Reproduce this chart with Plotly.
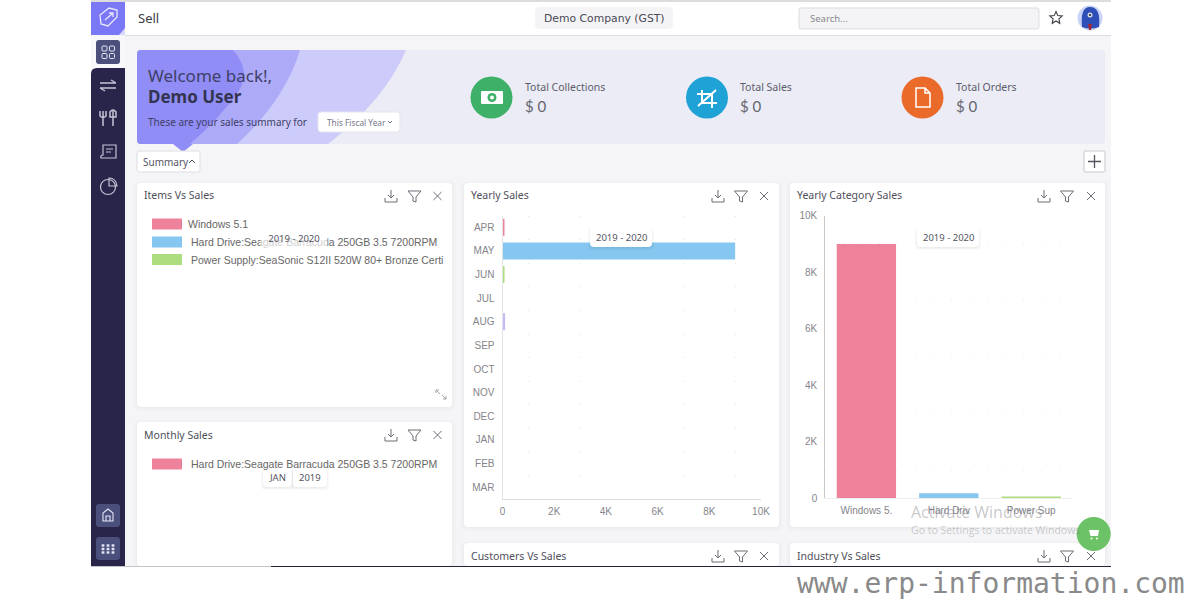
import math
import re
import plotly.graph_objects as go

W, H = 1200, 600

# chart values
MONTHS = ['APR', 'MAY', 'JUN', 'JUL', 'AUG', 'SEP', 'OCT', 'NOV', 'DEC', 'JAN', 'FEB', 'MAR']
MONTH_SALES = [60, 9000, 60, 0, 100, 0, 0, 0, 0, 0, 0, 0]
MONTH_COLORS = ['#ef829b', '#85c7f0', '#aedd7f', '#c6b9f5', '#c6b9f5'] + ['#ef829b'] * 7
CATEGORIES = ['Windows 5.', 'Hard Driv', 'Power Sup']
CATEGORY_SALES = [9000, 180, 60]
CATEGORY_COLORS = ['#ef829b', '#85c7f0', '#aedd7f']
SALES_TICKS = [0, 2000, 4000, 6000, 8000, 10000]
SALES_TICK_LABELS = ['0', '2K', '4K', '6K', '8K', '10K']
MINOR_X = [1000, 3000, 7000, 9000]
MINOR_Y = [1000, 3000, 5000, 7000, 9000]
ITEM_NAMES = ['Windows 5.1', 'Hard Drive:Seagate Barracuda 250GB 3.5 7200RPM',
              'Power Supply:SeaSonic S12II 520W 80+ Bronze Certi']
MONTHLY_NAMES = ['Hard Drive:Seagate Barracuda 250GB 3.5 7200RPM']
STAT_NAMES = ['Total Collections', 'Total Sales', 'Total Orders']
STAT_VALUES = ['$ 0', '$ 0', '$ 0']

UI_FONT = 'Noto Sans'
CHART_FONT = 'Liberation Sans'
shapes = []
annotations = []


def px(x):
    return x / W


def py(y):
    return 1 - y / H


def to_paper(path):
    # turn an svg path in screen pixels into paper fractions
    out = []
    is_x = True
    for tok in re.findall(r'[MLQCZ]|-?[\d.]+', path):
        if tok in 'MLQCZ':
            out.append(tok)
            is_x = True
        else:
            out.append(str(round(px(float(tok)) if is_x else py(float(tok)), 5)))
            is_x = not is_x
    return ' '.join(out)


def path(d, fill=None, line=None, width=1.2, layer='below'):
    shapes.append(dict(type='path', path=to_paper(d), xref='paper', yref='paper', layer=layer,
                       fillcolor=fill if fill else 'rgba(0,0,0,0)',
                       line=dict(color=line if line else 'rgba(0,0,0,0)', width=width if line else 0)))


def rrect_path(x0, y0, x1, y1, r):
    return (f'M {x0+r} {y0} L {x1-r} {y0} Q {x1} {y0} {x1} {y0+r} L {x1} {y1-r} Q {x1} {y1} {x1-r} {y1} '
            f'L {x0+r} {y1} Q {x0} {y1} {x0} {y1-r} L {x0} {y0+r} Q {x0} {y0} {x0+r} {y0} Z')


def rrect(x0, y0, x1, y1, r=0, fill='white', line=None, width=1, layer='below'):
    path(rrect_path(x0, y0, x1, y1, r) if r else f'M {x0} {y0} L {x1} {y0} L {x1} {y1} L {x0} {y1} Z',
         fill, line, width, layer)


def circle(cx, cy, r, fill=None, line=None, width=1.2, layer='below'):
    shapes.append(dict(type='circle', xref='paper', yref='paper', layer=layer,
                       x0=px(cx - r), x1=px(cx + r), y0=py(cy + r), y1=py(cy - r),
                       fillcolor=fill if fill else 'rgba(0,0,0,0)',
                       line=dict(color=line if line else 'rgba(0,0,0,0)', width=width if line else 0)))


def text(x, y, s, size=11, color='#4a4a55', font=UI_FONT, anchor='left', weight=None):
    annotations.append(dict(x=px(x), y=py(y), xref='paper', yref='paper', text=s, showarrow=False,
                            xanchor=anchor, yanchor='middle', borderpad=0,
                            font=dict(family=font, size=size, color=color, weight=weight)))


def chip(x0, y0, x1, y1, label, layer='above'):
    for i in (3, 2, 1):
        rrect(x0 - i + 1, y0 + 1, x1 + i - 1, y1 + i, 4, 'rgba(0,0,0,0.025)', layer=layer)
    rrect(x0, y0, x1, y1, 4, 'white', layer=layer)
    text((x0 + x1) / 2, (y0 + y1) / 2, label, 9.5, '#55555f', anchor='center')


def icon_download(cx, cy, c='#6b6b75'):
    path(f'M {cx} {cy-6} L {cx} {cy+2} M {cx-3} {cy-1} L {cx} {cy+2} L {cx+3} {cy-1} '
         f'M {cx-6} {cy+2} L {cx-6} {cy+6} L {cx+6} {cy+6} L {cx+6} {cy+2}', line=c, width=1)


def icon_filter(cx, cy, c='#6b6b75'):
    path(f'M {cx-6.5} {cy-5} L {cx+6.5} {cy-5} L {cx+1.5} {cy+1} L {cx+1.5} {cy+6} L {cx-1.5} {cy+5} L {cx-1.5} {cy+1} Z',
         line=c, width=1)


def icon_close(cx, cy, c='#6b6b75'):
    path(f'M {cx-4} {cy-4} L {cx+4} {cy+4} M {cx+4} {cy-4} L {cx-4} {cy+4}', line=c, width=1)


def card(x0, y0, x1, y1, title, icons_x):
    for i in (4, 3, 2, 1):
        rrect(x0 - i, y0 - i + 2, x1 + i, min(y1 + i, 566), 5, 'rgba(0,0,0,0.008)')
    rrect(x0, y0, x1, y1, 4, 'white')
    ty = y0 + 13
    text(x0 + 6, ty - 0.5, title, 10.5, '#4f4f5a')
    icon_download(icons_x[0], ty)
    icon_filter(icons_x[1], ty)
    icon_close(icons_x[2], ty)


# page background and frame
rrect(91, 0, 1111, 566, 0, '#f5f5f7')
rrect(91, 0, 1111, 2, 0, '#dcdcdc')
rrect(125, 2, 1111, 35, 0, 'white')
rrect(125, 35, 1111, 36, 0, '#dedee2')

# banner
rrect(137, 50, 1105, 144, 4, '#ebecf6')
path('M 141 50 L 406 50 Q 385 100 328 144 L 141 144 Q 137 144 137 140 L 137 54 Q 137 50 141 50 Z', '#cdcbfa')
path('M 141 50 L 300 50 Q 285 100 237 144 L 141 144 Q 137 144 137 140 L 137 54 Q 137 50 141 50 Z', '#adaaf8')
path('M 141 50 L 233 50 Q 252 72 238 92 Q 220 118 190 144 L 141 144 Q 137 144 137 140 L 137 54 Q 137 50 141 50 Z', '#908df6')
path('M 173 144 L 193 144 L 183 152 Z', '#908df6')
text(147, 75, 'Welcome back!,', 17, '#3f4068')
text(147, 97, 'Demo User', 17, '#33344f', weight='bold')
text(147, 122, 'These are your sales summary for', 10, '#3f4068')
rrect(318, 112, 400, 132, 3, 'white', '#e4e4ee', 1)
text(326, 122, 'This Fiscal Year', 8.3, '#77778a')
path('M 388 121 L 390 123 L 392 121', line='#77778a', width=1)

# stat tiles
STAT_X = [491.5, 707, 922.5]
STAT_COLORS = ['#3fb068', '#1fa3d6', '#ea6a2a']
for x, c, name, val in zip(STAT_X, STAT_COLORS, STAT_NAMES, STAT_VALUES):
    circle(x, 97.5, 21, c)
    text(x + 32, 87, name, 10.5, '#5c5c68')
    text(x + 32, 106, val, 15, '#66666f', font='Lato')
rrect(481, 91, 503, 104, 1, 'white')
circle(492, 97.5, 4.5, '#3fb068')
circle(492, 97.5, 2, 'white')
path('M 702 90 L 702 103 L 717 103 M 697 94 L 712 94 L 712 108 M 716 90 L 698 106', line='white', width=2)
path('M 916 88 L 925 88 L 930 93 L 930 107 L 916 107 Z M 925 88 L 925 93 L 930 93', line='white', width=1.5)

# header bar
text(137, 18, 'Sell', 13, '#3c3c46')
rrect(535, 7, 673, 29, 5, '#f4f4f6')
text(604, 18, 'Demo Company (GST)', 10.8, '#4a4a55', font='DejaVu Sans', anchor='center')
rrect(799, 8, 1039, 29, 2, '#f4f4f6', '#dcdce0', 1)
text(809, 18, 'Search...', 9.5, '#88888f')
star = []
for i in range(10):
    r = 6.5 if i % 2 == 0 else 3
    a = -math.pi / 2 + i * math.pi / 5
    star.append(f'{1056 + r * math.cos(a):.1f} {18 + r * math.sin(a):.1f}')
path('M ' + ' L '.join(star) + ' Z', line='#3c3c46', width=1.1)
circle(1090, 18, 12.5, '#c9d3f7')
path('M 1082 27 Q 1080 7 1090 7 Q 1101 7 1099 27 Q 1090 30 1082 27 Z', '#2f4fb8')
circle(1090, 15, 2.5, '#d5d9e8')
circle(1090, 15, 1, '#111')
path('M 1088 24 L 1092 24 L 1091 30 L 1089 30 Z', '#a5283a')

# sidebar
rrect(91, 2, 125, 35, 0, '#7b78f5')
path('M 100 15 L 109 8 L 117 10 L 117 17 L 108 26 L 101 24 Z M 105 20 L 113 13 M 109 13 L 113 13 L 113 17', line='#e8e8ff', width=1.3)
path('M 125 35 L 125 28 L 119 35 Z', '#d8d8fc')
rrect(91, 36, 125, 70, 0, '#f8f8fa')
path('M 97 68 L 125 68 L 125 566 L 91 566 L 91 74 Q 91 68 97 68 Z', '#28244a')
rrect(96, 40, 120, 64, 3, '#4a4f7c')
for bx, by in [(102, 46), (109.5, 46), (102, 53.5), (109.5, 53.5)]:
    rrect(bx, by, bx + 5, by + 5, 1, None, '#e4e6f5', 1)
path('M 100 83 L 116 83 M 111 80 L 116 83 M 116 88 L 100 88 M 105 91 L 100 88', line='#c4c4d4', width=1.4)
path('M 103 111 L 103 126 M 100 111 L 100 116 Q 103 119 106 116 L 106 111 M 113 111 L 113 126 M 110 112 Q 113 108 116 112 L 116 117 L 110 117 Z',
     line='#c4c4d4', width=1.5)
path('M 103 145 L 116 145 L 116 158 L 101 158 Q 100 155 103 155 Z M 106 149 L 113 149 M 106 152 L 111 152', line='#c4c4d4', width=1.2)
circle(108, 187, 7.5, line='#c4c4d4', width=1.2)
path('M 109 178 L 109 186 L 117 186 Q 116 178 109 178 Z', line='#c4c4d4', width=1.2)
rrect(96, 504, 120, 527, 3, '#4a4f7c')
path('M 103 521 L 103 513 L 108 509 L 113 513 L 113 521 Z M 106 521 L 106 516 L 110 516 L 110 521', line='#e4e6f5', width=1.1)
rrect(96, 537, 120, 560, 3, '#4a4f7c')
for gx in (103, 108, 113):
    for gy in (545.5, 549, 552.5):
        rrect(gx - 1.4, gy - 1.2, gx + 1.4, gy + 1.2, 0, '#e4e6f5')

# summary row
rrect(137, 151, 200, 172, 2, 'white', '#dedee4', 1)
text(142, 162, 'Summary', 10, '#55555f')
path('M 189 163 L 192 160 L 195 163', line='#55555f', width=1)
rrect(1084, 151, 1105, 172, 1, 'white', '#c8c8ce', 1)
path('M 1094.5 155 L 1094.5 168 M 1088 161.5 L 1101 161.5', line='#55555f', width=1.3)

# cards
card(137, 183, 452, 407, 'Items Vs Sales', (391, 414.5, 437.5))
card(137, 422, 452, 566, 'Monthly Sales', (391, 414.5, 437.5))
card(464, 183, 779, 527, 'Yearly Sales', (718, 741, 764))
card(464, 543, 779, 566, 'Customers Vs Sales', (718, 741, 764))
card(790, 183, 1105, 527, 'Yearly Category Sales', (1044, 1067, 1091))
card(790, 543, 1105, 566, 'Industry Vs Sales', (1044, 1067, 1091))
path('M 436 390 L 440 394 M 436 390 L 436 393 M 436 390 L 439 390 M 446 399 L 442 395 M 446 399 L 446 396 M 446 399 L 443 399', line='#9a9aa2', width=0.9)

# legends of the two pie-less cards
ITEM_Y = [224, 242, 259.5]
ITEM_TEXT_X = [186.5, 189.5, 189.5]
for name, color, y, tx in zip(ITEM_NAMES, CATEGORY_COLORS, ITEM_Y, ITEM_TEXT_X):
    rrect(152, y - 5.5, 182, y + 5.5, 0, color)
    text(tx, y, name, 10.5, '#666', font=CHART_FONT)
rrect(152, 458.5, 182, 469.5, 0, CATEGORY_COLORS[0])
text(189.5, 464, MONTHLY_NAMES[0], 10.5, '#666', font=CHART_FONT)

# translucent period chip that sits over the legend text
annotations.append(dict(x=px(294), y=py(238), xref='paper', yref='paper', text='2019 - 2020', showarrow=False,
                        xanchor='center', yanchor='middle', width=64, height=19,
                        bgcolor='rgba(255,255,255,0.68)', font=dict(family=UI_FONT, size=9.5, color='#55555f')))
chip(263, 468, 292, 487, 'JAN')
chip(293, 468, 327, 487, '2019')

# period chips over the two charts
chip(590, 227, 652, 247, '2019 - 2020')
chip(917, 228, 979, 247, '2019 - 2020')

# windows watermark and cart button
text(910, 512, 'Activate Windows', 16, 'rgba(120,120,125,0.42)', font='Open Sans')
text(910, 530, 'Go to Settings to activate Windows.', 10.5, 'rgba(120,120,125,0.38)', font='Open Sans')
circle(1093.7, 534, 17, '#6cc267', layer='above')
path('M 1089 530 L 1099 530 L 1098 536 L 1090.5 536 Z', 'white', layer='above')
circle(1091.5, 538.5, 1, 'white', layer='above')
circle(1097, 538.5, 1, 'white', layer='above')

# below the screenshot
rrect(91, 566, 271, 567, 0, '#c4c4c8')
rrect(271, 566, 1111, 567, 0, '#23233a')
text(1186, 583.5, 'www.erp-information.com', 28, '#8a8a8a', font='DejaVu Sans Mono', anchor='right')

fig = go.Figure()
fig.add_trace(go.Bar(x=MONTH_SALES, y=MONTHS, orientation='h', marker=dict(color=MONTH_COLORS, line_width=0),
                     xaxis='x', yaxis='y'))
fig.add_trace(go.Bar(x=CATEGORIES, y=CATEGORY_SALES, marker=dict(color=CATEGORY_COLORS, line_width=0),
                     xaxis='x2', yaxis='y2'))

tick_font = dict(family=CHART_FONT, size=10, color='#85858b')
fig.update_layout(
    width=W, height=H,
    margin=dict(l=0, r=0, t=0, b=0, autoexpand=False),
    paper_bgcolor='white',
    plot_bgcolor='rgba(0,0,0,0)',
    showlegend=False,
    bargap=0.28,
    shapes=shapes,
    annotations=annotations,
    xaxis=dict(domain=[px(502.5), px(761)], range=[0, 10000], tickvals=SALES_TICKS, ticktext=SALES_TICK_LABELS,
               showgrid=False, zeroline=False, showline=True, linecolor='#dcdcdc', tickfont=tick_font,
               ticks='outside', ticklen=3, tickcolor='rgba(0,0,0,0)', anchor='y',
               minor=dict(tickvals=MINOR_X, showgrid=True, gridcolor='#e6e6e6', griddash='1px,22.6px', ticks='')),
    yaxis=dict(domain=[py(499), py(215.5)], categoryorder='array', categoryarray=MONTHS, range=[11.5, -0.5],
               showgrid=False, zeroline=False, showline=True, linecolor='#e4e4e4', tickfont=tick_font,
               ticks='outside', ticklen=5, tickcolor='rgba(0,0,0,0)', anchor='x'),
    xaxis2=dict(domain=[px(825.2), px(1072.4)], showgrid=False, zeroline=False, showline=True, linecolor='#eeeeee',
                tickfont=tick_font, ticks='outside', ticklen=3, tickcolor='rgba(0,0,0,0)', anchor='y2'),
    yaxis2=dict(domain=[py(498.3), py(215.7)], range=[0, 10000], tickvals=SALES_TICKS, ticktext=SALES_TICK_LABELS,
                showgrid=False, zeroline=False, showline=True, linecolor='#c8c8c8', tickfont=tick_font,
                ticks='outside', ticklen=5, tickcolor='rgba(0,0,0,0)', anchor='x2',
                minor=dict(tickvals=MINOR_Y, showgrid=True, gridcolor='#ebebeb', griddash='1px,17px', ticks='')),
)

fig.write_html("out.html", config=dict(displayModeBar=False),
               post_script="document.body.style.margin='0';document.documentElement.style.overflow='hidden';")
